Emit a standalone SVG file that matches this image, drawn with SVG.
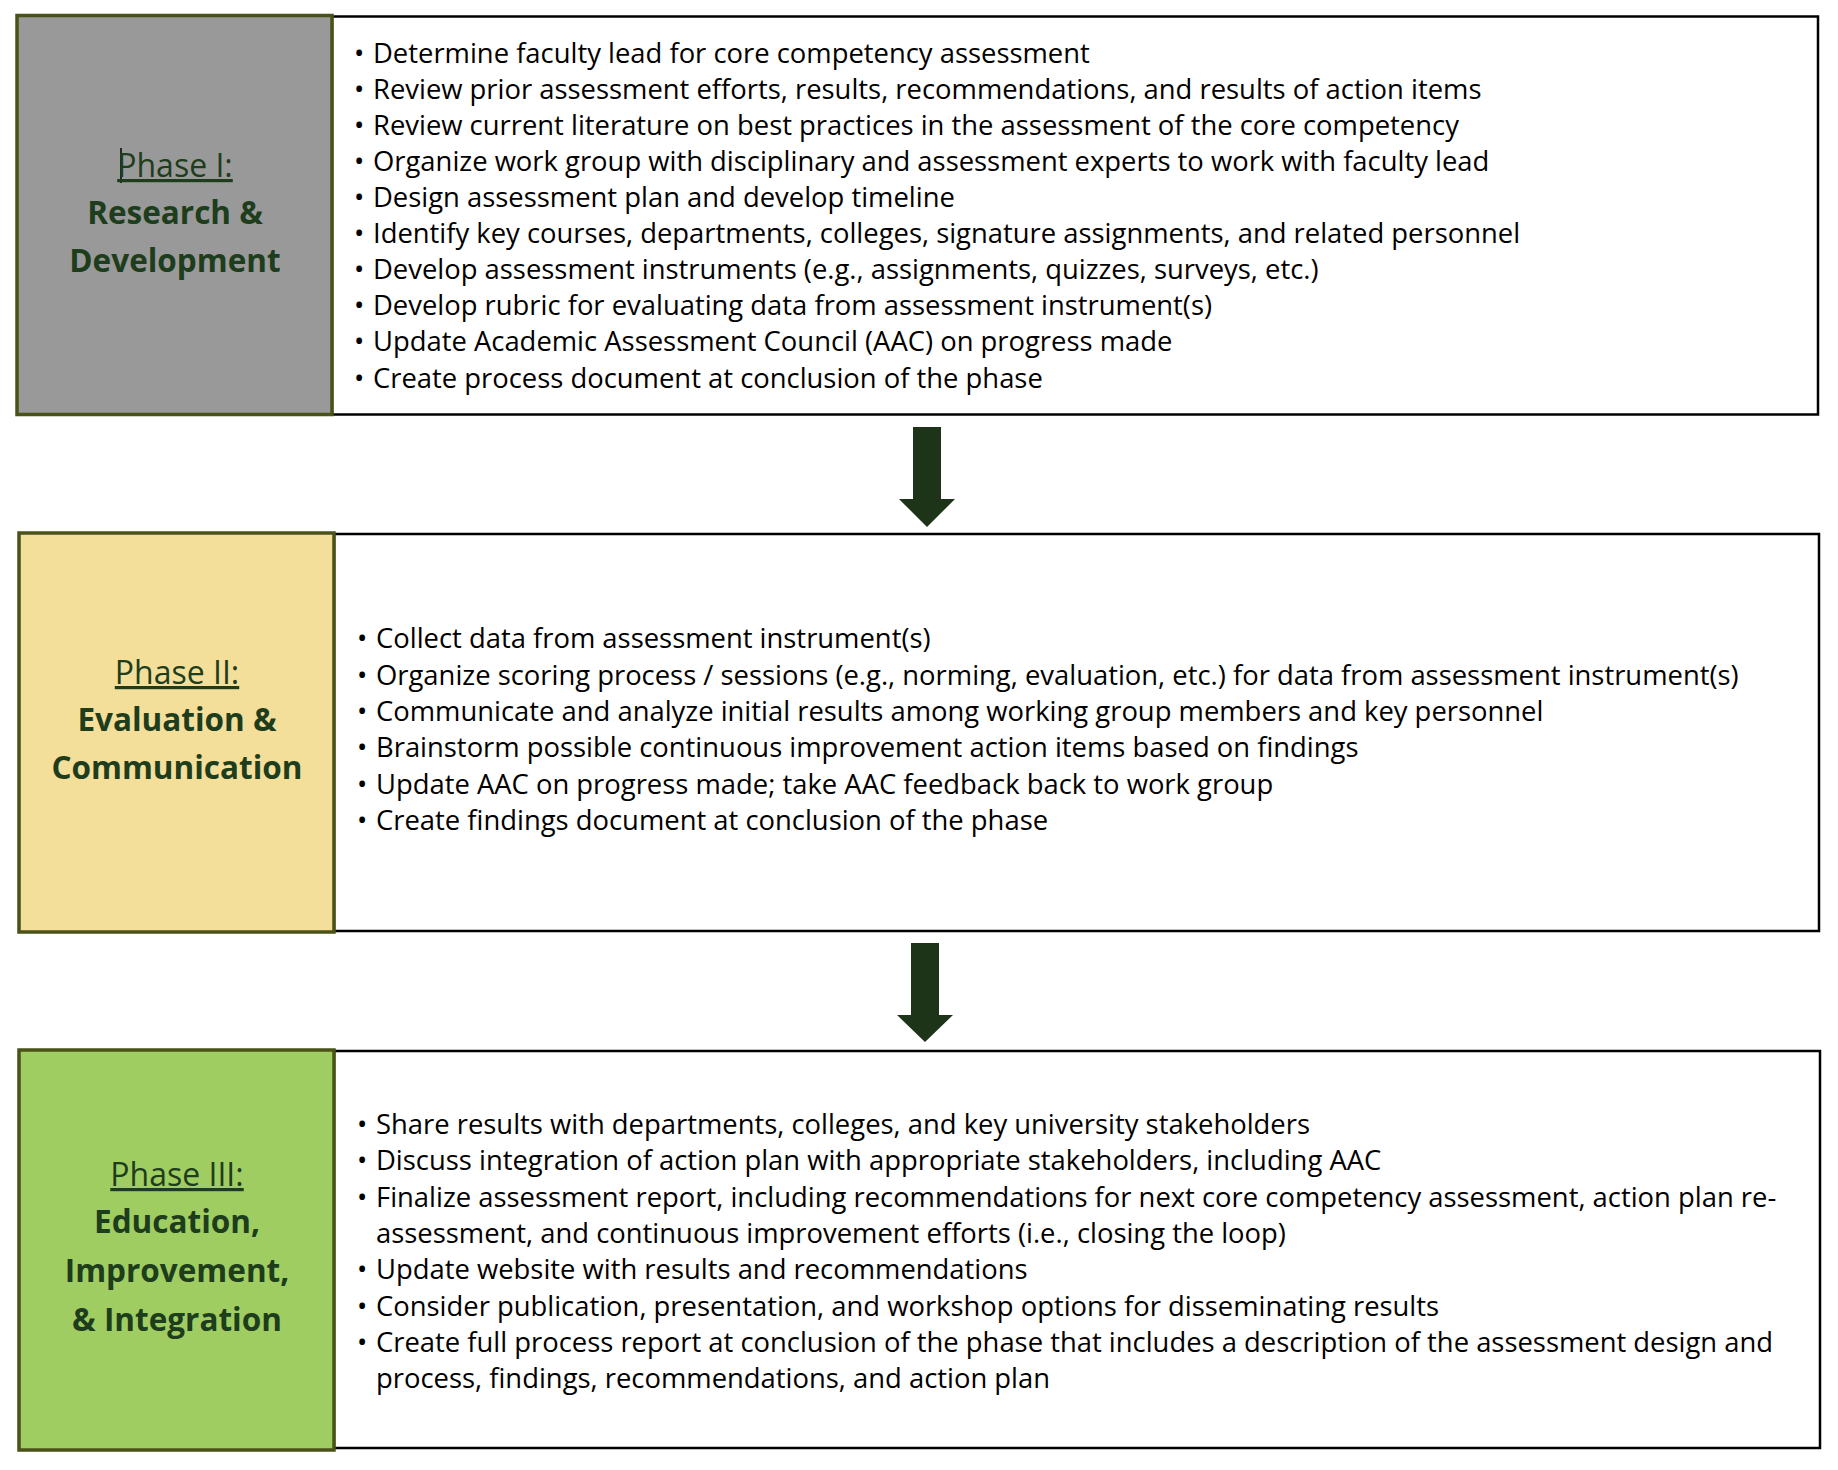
<svg xmlns="http://www.w3.org/2000/svg" width="1838" height="1470" viewBox="0 0 1838 1470">
  <style>
    .panel { fill: #ffffff; stroke: #000000; stroke-width: 2.5; }
    .phase { stroke: #4a5218; stroke-width: 3.5; }
    .body { font-family: "Open Sans", "Liberation Sans", sans-serif; font-size: 27.4px; fill: #000000; }
    .ph { font-family: "Open Sans", "Liberation Sans", sans-serif; font-size: 32px; fill: #1e3d1c; text-anchor: middle; text-decoration: underline; }
    .ttl { font-family: "Open Sans", "Liberation Sans", sans-serif; font-size: 31.5px; font-weight: bold; fill: #1e3d1c; text-anchor: middle; }
    .arrow { fill: #1d3419; }
  </style>
  <rect width="1838" height="1470" fill="#ffffff"/>

  <g id="phase1">
    <rect class="panel" x="332" y="16.5" width="1486" height="398"/>
    <rect class="phase" x="17" y="15.5" width="315" height="399" fill="#999999"/>
    <line x1="121" y1="148" x2="121" y2="183" stroke="#000000" stroke-width="1.5"/>
    <text class="ph" x="175" y="177">Phase I:</text>
    <text class="ttl" x="175" y="224">Research &amp;</text>
    <text class="ttl" x="175" y="272">Development</text>
    <g class="body" transform="translate(0,1)">
      <text x="354" y="62">•</text><text x="373" y="62">Determine faculty lead for core competency assessment</text>
      <text x="354" y="98">•</text><text x="373" y="98">Review prior assessment efforts, results, recommendations, and results of action items</text>
      <text x="354" y="134">•</text><text x="373" y="134">Review current literature on best practices in the assessment of the core competency</text>
      <text x="354" y="170">•</text><text x="373" y="170">Organize work group with disciplinary and assessment experts to work with faculty lead</text>
      <text x="354" y="206">•</text><text x="373" y="206">Design assessment plan and develop timeline</text>
      <text x="354" y="242">•</text><text x="373" y="242">Identify key courses, departments, colleges, signature assignments, and related personnel</text>
      <text x="354" y="278">•</text><text x="373" y="278">Develop assessment instruments (e.g., assignments, quizzes, surveys, etc.)</text>
      <text x="354" y="314">•</text><text x="373" y="314">Develop rubric for evaluating data from assessment instrument(s)</text>
      <text x="354" y="350">•</text><text x="373" y="350">Update Academic Assessment Council (AAC) on progress made</text>
      <text x="354" y="387">•</text><text x="373" y="387">Create process document at conclusion of the phase</text>
    </g>
  </g>

  <g id="phase2">
    <rect class="panel" x="334" y="534" width="1485" height="397"/>
    <rect class="phase" x="19" y="533" width="315" height="399" fill="#f4df9a"/>
    <text class="ph" x="177" y="684">Phase II:</text>
    <text class="ttl" x="177" y="731">Evaluation &amp;</text>
    <text class="ttl" x="177" y="779">Communication</text>
    <g class="body" transform="translate(0,1)">
      <text x="357" y="647">•</text><text x="376" y="647">Collect data from assessment instrument(s)</text>
      <text x="357" y="684">•</text><text x="376" y="684">Organize scoring process / sessions (e.g., norming, evaluation, etc.) for data from assessment instrument(s)</text>
      <text x="357" y="720">•</text><text x="376" y="720">Communicate and analyze initial results among working group members and key personnel</text>
      <text x="357" y="756">•</text><text x="376" y="756">Brainstorm possible continuous improvement action items based on findings</text>
      <text x="357" y="793">•</text><text x="376" y="793">Update AAC on progress made; take AAC feedback back to work group</text>
      <text x="357" y="829">•</text><text x="376" y="829">Create findings document at conclusion of the phase</text>
    </g>
  </g>

  <g id="phase3">
    <rect class="panel" x="334" y="1051" width="1486" height="397"/>
    <rect class="phase" x="19" y="1050" width="315" height="400" fill="#a0cd62"/>
    <text class="ph" x="177" y="1186">Phase III:</text>
    <text class="ttl" x="177" y="1233">Education,</text>
    <text class="ttl" x="177" y="1282">Improvement,</text>
    <text class="ttl" x="177" y="1331">&amp; Integration</text>
    <g class="body" transform="translate(0,1)">
      <text x="357" y="1133">•</text><text x="376" y="1133">Share results with departments, colleges, and key university stakeholders</text>
      <text x="357" y="1169">•</text><text x="376" y="1169">Discuss integration of action plan with appropriate stakeholders, including AAC</text>
      <text x="357" y="1206">•</text><text x="376" y="1206">Finalize assessment report, including recommendations for next core competency assessment, action plan re-</text>
      <text x="376" y="1242">assessment, and continuous improvement efforts (i.e., closing the loop)</text>
      <text x="357" y="1278">•</text><text x="376" y="1278">Update website with results and recommendations</text>
      <text x="357" y="1315">•</text><text x="376" y="1315">Consider publication, presentation, and workshop options for disseminating results</text>
      <text x="357" y="1351">•</text><text x="376" y="1351">Create full process report at conclusion of the phase that includes a description of the assessment design and</text>
      <text x="376" y="1387">process, findings, recommendations, and action plan</text>
    </g>
  </g>

  <g id="connectors">
    <polygon class="arrow" points="913,427 941,427 941,499 955,499 927,527 899,499 913,499"/>
    <polygon class="arrow" points="911,943 939,943 939,1015 953,1015 925,1042 897,1015 911,1015"/>
  </g>
</svg>
